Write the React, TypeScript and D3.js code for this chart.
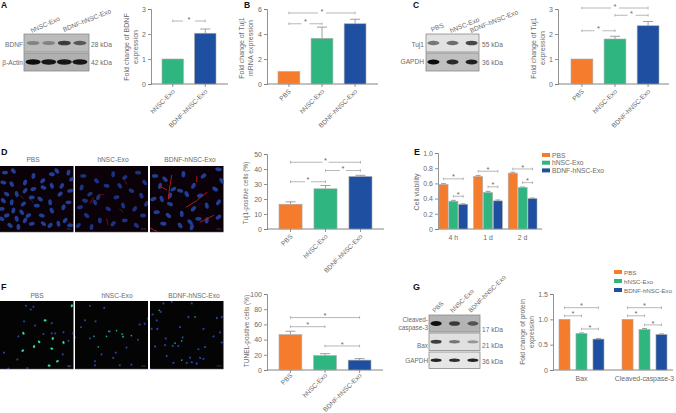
import React, { useEffect, useRef } from "react";
import * as d3 from "d3";

const GREY = "#6a6a6a";
const AXIS = "#777";
const ORANGE = "#f47c2c";
const GREEN = "#2fb57f";
const BLUE = "#1f4fa0";
const FONT = "'Liberation Sans', Arial, sans-serif";

const threeGroups = ["PBS", "hNSC-Exo", "BDNF-hNSC-Exo"];
const twoGroups = ["hNSC-Exo", "BDNF-hNSC-Exo"];
const threeColors = [ORANGE, GREEN, BLUE];

// A
const bdnfValues = [1, 2.03];
const bdnfErrors = [0, 0.17];
const bdnfBrackets = [[0, 1, 2.52]];
// B
const tuj1MrnaValues = [1, 3.65, 4.82];
const tuj1MrnaErrors = [0, 0.9, 0.36];
const tuj1MrnaBrackets = [[0, 2, 5.68], [0, 1, 4.82]];
// C
const tuj1Values = [1, 1.8, 2.33];
const tuj1Errors = [0, 0.11, 0.17];
const tuj1Brackets = [[0, 2, 3.04], [1, 2, 2.75], [0, 1, 2.13]];
// D
const tuj1CellValues = [16.5, 26.8, 35];
const tuj1CellErrors = [1.6, 2.2, 0.8];
const tuj1CellBrackets = [[0, 2, 44.5], [1, 2, 39], [0, 1, 31.5]];
// F
const tunelValues = [46.5, 19, 13];
const tunelErrors = [4.5, 2.5, 2];
const tunelBrackets = [[0, 2, 69], [0, 1, 57], [1, 2, 31.6]];
// E
const viabilityGroups = ["4 h", "1 d", "2 d"];
const viabilityValues = [[0.585, 0.365, 0.325], [0.69, 0.48, 0.37], [0.735, 0.545, 0.4]];
const viabilityErrors = [[0.012, 0.012, 0.006], [0.015, 0.015, 0.012], [0.012, 0.008, 0.008]];
const viabilityBrackets = [[0, 0, 2, 0.66], [0, 1, 2, 0.43], [1, 0, 2, 0.76], [1, 1, 2, 0.555], [2, 0, 2, 0.79], [2, 1, 2, 0.61]];
// G
const proteinGroups = ["Bax", "Cleaved-caspase-3"];
const proteinValues = [[1, 0.72, 0.61], [1, 0.8, 0.7]];
const proteinErrors = [[0, 0.012, 0.012], [0, 0.02, 0.012]];
const proteinBrackets = [[0, 0, 2, 1.23], [0, 0, 1, 1.07], [0, 1, 2, 0.81], [1, 0, 2, 1.23], [1, 0, 1, 1.07], [1, 1, 2, 0.89]];

// blot band strengths per lane
const blotABdnf = [0.3, 0.3, 0.75, 0.6];
const blotAActin = [1, 0.95, 0.95, 0.95];
const blotCTuj1 = [0.55, 0.6, 0.8];
const blotCGapdh = [1, 0.85, 0.9];
const blotGCaspase = [1, 0.75, 0.6];
const blotGBax = [0.85, 0.55, 0.4];
const blotGGapdh = [0.9, 0.85, 0.9];

// micrograph spots (local units: 220 wide, 200 high)
const dNucleiPbs = [[15,20],[40,15],[100,30],[128,45],[155,25],[170,15],[205,20],[215,40],[10,50],[35,55],[75,50],[100,70],[130,65],[155,60],[185,60],[210,75],[20,85],[50,85],[75,75],[95,95],[120,100],[150,110],[180,85],[205,110],[10,105],[35,110],[70,115],[110,120],[65,140],[40,135],[85,150],[125,150],[155,135],[190,125],[20,150],[5,160],[50,160],[75,165],[95,175],[130,175],[175,175],[195,165],[210,180],[30,180],[55,185],[150,180],[5,130]];
const dNucleiHnsc = [[25,30],[65,45],[115,25],[150,35],[190,20],[210,50],[20,65],[45,85],[30,105],[60,110],[70,95],[125,95],[170,75],[200,90],[215,115],[15,125],[100,130],[145,120],[180,130],[205,150],[35,150],[75,165],[115,175],[150,165],[185,180],[50,185],[10,180],[95,60],[135,60]];
const dNucleiBdnf = [[15,30],[45,40],[100,25],[160,30],[205,10],[215,45],[30,60],[70,70],[90,75],[110,85],[60,90],[10,100],[60,115],[35,100],[130,60],[150,90],[195,70],[170,120],[205,110],[20,140],[55,150],[95,145],[130,130],[145,160],[120,170],[170,165],[205,155],[40,175],[90,180],[125,185]];
const dRedPbs = [[[88,98],[98,108]], [[60,90],[70,98]], [[205,170],[215,178]]];
const dRedHnsc = [[[46,112],[55,95]], [[73,88],[85,86]], [[135,130],[145,140]], [[150,45],[156,55]], [[95,160],[100,178]]];
const dRedBdnf = [[[65,28],[58,70],[55,100]], [[108,125],[140,105],[170,80]], [[140,32],[140,48]], [[150,170],[190,150]], [[0,188],[20,198]], [[30,62],[50,72]]];

const fBluePbs = [[78,14],[92,25],[100,17],[72,60],[105,72],[155,65],[155,95],[165,95],[190,92],[205,117],[218,95],[55,104],[12,152],[188,157],[207,192],[52,172],[82,197],[25,199],[130,97]];
const fGreenPbs = [[135,57],[117,120],[102,134],[68,146],[155,140],[70,95],[158,110],[172,177],[147,190],[190,122],[215,14]];
const fBlueHnsc = [[45,14],[88,20],[30,57],[62,60],[18,77],[45,110],[0,107],[190,114],[195,69],[210,67],[155,137],[123,152],[115,167],[60,177],[60,189],[135,189],[170,187],[80,157],[220,52],[105,90],[145,105]];
const fGreenHnsc = [[57,104],[95,104],[125,87],[102,89],[170,102],[142,97],[145,105],[70,135]];
const fBlueBdnf = [[8,40],[20,57],[5,82],[22,82],[32,32],[47,110],[98,107],[45,130],[68,132],[15,134],[50,162],[70,182],[90,77],[115,47],[160,82],[190,104],[210,92],[200,50],[215,47],[165,135],[145,142],[120,167],[110,182],[125,180],[150,167],[140,184],[160,170],[215,122],[0,200],[85,132],[40,7],[65,2],[125,7]];
const fGreenBdnf = [[28,27],[75,124],[95,117],[95,174],[135,47]];

const barX = (range: number[], n: number) => d3.scaleBand<number>().domain(d3.range(n)).range(range as [number, number]).paddingInner(0.34).paddingOuter(0);

function drawAxes(g: any, y: any, axisX: number, right: number, ticks: number[], fmt: (d: number) => string) {
  const left = g.append("g").attr("transform", `translate(${axisX},0)`).call(d3.axisLeft(y).tickValues(ticks).tickSize(3).tickPadding(2).tickFormat(fmt as any));
  left.selectAll("path,line").attr("stroke", AXIS).attr("stroke-width", 0.8);
  left.selectAll("text").attr("fill", GREY).attr("font-size", 7).attr("font-family", FONT);
  g.append("line").attr("x1", axisX).attr("x2", right).attr("y1", y(0)).attr("y2", y(0)).attr("stroke", AXIS).attr("stroke-width", 0.9);
}

function drawError(g: any, cx: number, y: any, v: number, e: number, cap: number) {
  if (!e) return;
  g.append("line").attr("x1", cx).attr("x2", cx).attr("y1", y(v)).attr("y2", y(v + e)).attr("stroke", "#888").attr("stroke-width", 0.8);
  g.append("line").attr("x1", cx - cap).attr("x2", cx + cap).attr("y1", y(v + e)).attr("y2", y(v + e)).attr("stroke", "#888").attr("stroke-width", 0.8);
}

function drawBar(g: any, x: number, w: number, y: any, v: number, color: string) {
  g.append("rect").attr("x", x).attr("y", y(v)).attr("width", w).attr("height", y(0) - y(v))
    .attr("fill", color).attr("stroke", "#aaa").attr("stroke-width", 0.6);
}

// star sits above the line, some panels leave a gap in the line under it
function drawBracket(g: any, x1: number, x2: number, yy: number, gap = 0) {
  const mid = (x1 + x2) / 2;
  const c = "#999";
  [[x1, mid - gap], [mid + gap, x2]].forEach(([a, b]) => {
    g.append("line").attr("x1", a).attr("x2", b).attr("y1", yy).attr("y2", yy).attr("stroke", c).attr("stroke-width", 0.7);
  });
  [x1, x2].forEach((x) => {
    g.append("line").attr("x1", x).attr("x2", x).attr("y1", yy - 1.3).attr("y2", yy + 1.3).attr("stroke", c).attr("stroke-width", 0.7);
  });
  g.append("text").attr("x", mid).attr("y", yy + 0.6).attr("text-anchor", "middle").attr("font-size", 7.5).attr("fill", GREY).attr("font-family", FONT).text("*");
}

function simplePanel(g: any, o: any) {
  const y = d3.scaleLinear().domain(o.domain).range(o.yRange);
  const x = barX(o.barRange, o.labels.length);
  const labelDy = o.labelDy ?? 8;
  drawAxes(g, y, o.axisX, o.right, o.ticks, (d) => String(d));
  o.values.forEach((v: number, i: number) => {
    const bx = x(i)!;
    const cx = bx + x.bandwidth() / 2;
    drawError(g, cx, y, v, o.errors[i], 5);
    drawBar(g, bx, x.bandwidth(), y, v, o.colors[i]);
    g.append("line").attr("x1", cx).attr("x2", cx).attr("y1", y(0)).attr("y2", y(0) + 3).attr("stroke", AXIS).attr("stroke-width", 0.8);
    g.append("text").attr("transform", `translate(${cx + 2.5},${y(0) + labelDy}) rotate(-45)`).attr("text-anchor", "end")
      .attr("font-size", 6.6).attr("fill", GREY).attr("font-family", FONT).text(o.labels[i]);
  });
  o.brackets.forEach(([a, b, v]: number[]) => {
    drawBracket(g, x(a)! + x.bandwidth() / 2, x(b)! + x.bandwidth() / 2, y(v), o.gap);
  });
}

function groupedPanel(g: any, o: any) {
  const y = d3.scaleLinear().domain(o.domain).range(o.yRange);
  const x0 = d3.scaleBand<number>().domain(d3.range(o.groups.length)).range(o.barRange).paddingInner(o.pad0).paddingOuter(0);
  const x1 = d3.scaleBand<number>().domain([0, 1, 2]).range([0, x0.bandwidth()]).paddingInner(o.pad1).paddingOuter(0);
  drawAxes(g, y, o.axisX, o.right, o.ticks, o.fmt);
  o.groups.forEach((name: string, gi: number) => {
    o.values[gi].forEach((v: number, si: number) => {
      const bx = x0(gi)! + x1(si)!;
      drawError(g, bx + x1.bandwidth() / 2, y, v, o.errors[gi][si], 2.5);
      drawBar(g, bx, x1.bandwidth(), y, v, threeColors[si]);
    });
    g.append("text").attr("x", x0(gi)! + x0.bandwidth() / 2).attr("y", y(0) + o.labelDy).attr("text-anchor", "middle")
      .attr("font-size", 6.9).attr("fill", GREY).attr("font-family", FONT).text(name);
  });
  o.brackets.forEach(([gi, a, b, v]: number[]) => {
    const c = (s: number) => x0(gi)! + x1(s)! + x1.bandwidth() / 2;
    drawBracket(g, c(a), c(b), y(v), 0);
  });
}

const Txt = ({ x, y, children, size = 6.6, anchor = "start", fill = GREY, rotate, weight }: any) => (
  <text x={rotate === undefined ? x : 0} y={rotate === undefined ? y : 0}
    transform={rotate === undefined ? undefined : `translate(${x},${y}) rotate(${rotate})`}
    fontSize={size} textAnchor={anchor} fill={fill} fontWeight={weight} fontFamily={FONT}>{children}</text>
);

const YTitle = ({ x, y, lines, size = 7 }: any) => (
  <g>
    {lines.map((l: string, i: number) => (
      <Txt key={l} x={x + i * 9} y={y} rotate={-90} anchor="middle" size={size}>{l}</Txt>
    ))}
  </g>
);

function Blot({ x, y, w, h, lanes, bands, bg, dark = "#111", bandW = 12, bandH = 3.6 }: any) {
  const lane = d3.scalePoint<number>().domain(d3.range(lanes)).range([x + w * 0.14, x + w * 0.86]);
  return (
    <g>
      <rect x={x} y={y} width={w} height={h} fill={bg} stroke="#8a8a8a" strokeWidth={0.8} />
      <g filter="url(#soft)">
        {bands.map((b: number, i: number) => (
          <ellipse key={i} cx={lane(i)} cy={y + h / 2} rx={bandW / 2} ry={bandH / 2 + b * 0.7} fill={dark} opacity={b} />
        ))}
      </g>
    </g>
  );
}

function Photo({ x, y, w, h, bg, layers }: any) {
  const sx = d3.scaleLinear().domain([0, 220]).range([x, x + w]);
  const sy = d3.scaleLinear().domain([0, 200]).range([y, y + h]);
  const line = d3.line<number[]>().x((d) => sx(d[0])).y((d) => sy(d[1]));
  return (
    <g>
      <clipPath id={`clip${x}${y}`}><rect x={x} y={y} width={w} height={h} /></clipPath>
      <rect x={x} y={y} width={w} height={h} fill={bg} />
      <g clipPath={`url(#clip${x}${y})`}>
        <g filter="url(#softer)">
          {layers.spots.map((s: any, si: number) => s.points.map((p: number[], i: number) => (
            <ellipse key={`${si}-${i}`} cx={sx(p[0])} cy={sy(p[1])} rx={s.rx} ry={s.ry} fill={s.color}
              transform={`rotate(${(i * 47) % 180} ${sx(p[0])} ${sy(p[1])})`} />
          )))}
          {(layers.red || []).map((r: number[][], i: number) => (
            <path key={i} d={line(r)!} fill="none" stroke="#b01824" strokeWidth={layers.redW} strokeLinecap="round" />
          ))}
        </g>
      </g>
      <line x1={x} x2={x + w} y1={y + h + 0.3} y2={y + h + 0.3} stroke="#aaa" strokeWidth={0.7} />
      <line x1={x + w - 7} x2={x + w - 2} y1={y + h - 3} y2={y + h - 3} stroke="#666" strokeWidth={0.5} />
    </g>
  );
}

function Legend({ x, y, step, size }: any) {
  return (
    <g>
      {threeGroups.map((n, i) => (
        <g key={n}>
          <rect x={x} y={y + i * step - 2} width={8} height={4} fill={threeColors[i]} />
          <Txt x={x + 10} y={y + i * step + 2.5} size={size}>{n}</Txt>
        </g>
      ))}
    </g>
  );
}

export default function App() {
  const ref = useRef<SVGGElement>(null);

  useEffect(() => {
    const g = d3.select(ref.current!);
    g.selectAll("*").remove();
    const two = [GREEN, BLUE];
    const oneDec = (d: number) => (d === 0 ? "0" : d3.format(".1f")(d));
    simplePanel(g, { domain: [0, 3], yRange: [84, 9], barRange: [162, 216], axisX: 151, right: 228, ticks: [0, 1, 2, 3], labels: twoGroups, colors: two, values: bdnfValues, errors: bdnfErrors, brackets: bdnfBrackets, gap: 6 });
    simplePanel(g, { domain: [0, 6], yRange: [84, 9], barRange: [278, 366], axisX: 267, right: 378, ticks: [0, 2, 4, 6], labels: threeGroups, colors: threeColors, values: tuj1MrnaValues, errors: tuj1MrnaErrors, brackets: tuj1MrnaBrackets, gap: 4 });
    simplePanel(g, { domain: [0, 3], yRange: [84, 9], barRange: [571, 659], axisX: 558, right: 669, ticks: [0, 1, 2, 3], labels: threeGroups, colors: threeColors, values: tuj1Values, errors: tuj1Errors, brackets: tuj1Brackets, gap: 4 });
    simplePanel(g, { domain: [0, 50], yRange: [229, 154], barRange: [279, 372], axisX: 267, right: 384, ticks: [0, 10, 20, 30, 40, 50], labels: threeGroups, colors: threeColors, values: tuj1CellValues, errors: tuj1CellErrors, brackets: tuj1CellBrackets, gap: 3 });
    simplePanel(g, { domain: [0, 100], yRange: [370, 294], barRange: [279, 371], axisX: 267, right: 383, ticks: [0, 20, 40, 60, 80, 100], labels: threeGroups, colors: threeColors, values: tunelValues, errors: tunelErrors, brackets: tunelBrackets, gap: 0, labelDy: 6 });
    groupedPanel(g, { domain: [0, 1], yRange: [229, 153], barRange: [439, 537], pad0: 0.17, pad1: 0.08, axisX: 438, right: 542, ticks: [0, 0.2, 0.4, 0.6, 0.8, 1], fmt: oneDec, groups: viabilityGroups, values: viabilityValues, errors: viabilityErrors, brackets: viabilityBrackets, labelDy: 11 });
    groupedPanel(g, { domain: [0, 1.5], yRange: [370, 294], barRange: [559, 667], pad0: 0.286, pad1: 0.35, axisX: 553, right: 673, ticks: [0, 0.5, 1, 1.5], fmt: oneDec, groups: proteinGroups, values: proteinValues, errors: proteinErrors, brackets: proteinBrackets, labelDy: 10.5 });
  }, []);

  return (
    <svg width={676} height={413} style={{ position: "absolute", left: 0, top: 0, background: "#fff" }}>
      <defs>
        <filter id="soft" x="-10%" y="-10%" width="120%" height="120%"><feGaussianBlur stdDeviation={0.6} /></filter>
        <filter id="softer" x="-10%" y="-10%" width="120%" height="120%"><feGaussianBlur stdDeviation={0.5} /></filter>
      </defs>

      {/* panel letters */}
      <Txt x={1} y={8} size={8.5} fill="#111" weight="bold">A</Txt>
      <Txt x={244} y={8} size={8.5} fill="#111" weight="bold">B</Txt>
      <Txt x={413} y={8} size={8.5} fill="#111" weight="bold">C</Txt>
      <Txt x={1} y={155} size={9} fill="#111" weight="bold">D</Txt>
      <Txt x={414} y={155} size={9} fill="#111" weight="bold">E</Txt>
      <Txt x={1} y={290} size={9} fill="#111" weight="bold">F</Txt>
      <Txt x={413} y={290} size={9} fill="#111" weight="bold">G</Txt>

      {/* A blot */}
      <Blot x={24} y={34} w={65} h={18} lanes={4} bands={blotABdnf} bg="#bcbcbc" bandW={13} />
      <Blot x={24} y={53} w={65} h={18} lanes={4} bands={blotAActin} bg="#b0b0b0" bandW={15} bandH={4} />
      <Txt x={32} y={33} rotate={-24} size={6.6}>hNSC-Exo</Txt>
      <Txt x={64} y={32} rotate={-22} size={6.6}>BDNF-hNSC-Exo</Txt>
      <Txt x={23} y={47} anchor="end">BDNF</Txt>
      <Txt x={23} y={65} anchor="end">β-Actin</Txt>
      <Txt x={91} y={47}>28 kDa</Txt>
      <Txt x={91} y={65}>42 kDa</Txt>

      {/* C blot */}
      <Blot x={426} y={34} w={53} h={18} lanes={3} bands={blotCTuj1} bg="#e2e2e2" dark="#222" bandW={12} />
      <Blot x={426} y={53} w={53} h={18} lanes={3} bands={blotCGapdh} bg="#c0c0c0" bandW={12} />
      <Txt x={432} y={32} rotate={-22} size={6.6}>PBS</Txt>
      <Txt x={451} y={33} rotate={-22} size={6.6}>hNSC-Exo</Txt>
      <Txt x={471} y={33} rotate={-22} size={6.6}>BDNF-hNSC-Exo</Txt>
      <Txt x={424} y={47} anchor="end">Tuj1</Txt>
      <Txt x={424} y={64} anchor="end">GAPDH</Txt>
      <Txt x={482} y={47}>55 kDa</Txt>
      <Txt x={482} y={65}>36 kDa</Txt>

      {/* G blot */}
      <Blot x={429} y={315} w={51} h={17} lanes={3} bands={blotGCaspase} bg="#b4b4b4" bandW={11} />
      <Blot x={429} y={333} w={51} h={17.5} lanes={3} bands={blotGBax} bg="#e0e0e0" dark="#222" bandW={11} bandH={2.6} />
      <Blot x={429} y={352} w={51} h={16.5} lanes={3} bands={blotGGapdh} bg="#e6e6e6" bandW={11} bandH={2.2} />
      <Txt x={435} y={313} rotate={-45} size={6.4}>PBS</Txt>
      <Txt x={453} y={313} rotate={-45} size={6.4}>hNSC-Exo</Txt>
      <Txt x={471} y={313} rotate={-45} size={6.4}>BDNF-hNSC-Exo</Txt>
      <Txt x={428} y={322} anchor="end" size={6.4}>Cleaved-</Txt>
      <Txt x={428} y={330} anchor="end" size={6.4}>caspase-3</Txt>
      <Txt x={428} y={348} anchor="end" size={6.4}>Bax</Txt>
      <Txt x={428} y={363} anchor="end" size={6.4}>GAPDH</Txt>
      <Txt x={482} y={332}>17 kDa</Txt>
      <Txt x={482} y={348}>21 kDa</Txt>
      <Txt x={482} y={364}>36 kDa</Txt>

      {/* D micrographs */}
      <Photo x={0} y={166} w={73.5} h={66} bg="#0a0208" layers={{ spots: [{ points: dNucleiPbs, rx: 3, ry: 1.9, color: "#243c94" }], red: dRedPbs, redW: 0.6 }} />
      <Photo x={75} y={166} w={73} h={66} bg="#0a0208" layers={{ spots: [{ points: dNucleiHnsc, rx: 3, ry: 1.9, color: "#1d3080" }], red: dRedHnsc, redW: 0.6 }} />
      <Photo x={150} y={166} w={73.5} h={66} bg="#0a0208" layers={{ spots: [{ points: dNucleiBdnf, rx: 3.2, ry: 1.9, color: "#243c94" }], red: dRedBdnf, redW: 1 }} />
      <Txt x={33} y={162} anchor="middle">PBS</Txt>
      <Txt x={113} y={162} anchor="middle">hNSC-Exo</Txt>
      <Txt x={190} y={162} anchor="middle">BDNF-hNSC-Exo</Txt>

      {/* F micrographs */}
      <Photo x={0} y={301} w={73.5} h={68} bg="#040404" layers={{ spots: [{ points: fBluePbs, rx: 1.1, ry: 1, color: "#2640a0" }, { points: fGreenPbs, rx: 1.5, ry: 1.1, color: "#2fd8a8" }] }} />
      <Photo x={75} y={301} w={73} h={68} bg="#040404" layers={{ spots: [{ points: fBlueHnsc, rx: 1.1, ry: 1, color: "#2640a0" }, { points: fGreenHnsc, rx: 0.9, ry: 0.8, color: "#22a878" }] }} />
      <Photo x={150} y={301} w={73.5} h={68} bg="#040404" layers={{ spots: [{ points: fBlueBdnf, rx: 1.2, ry: 1, color: "#2640a0" }, { points: fGreenBdnf, rx: 0.9, ry: 0.8, color: "#22a878" }] }} />
      <Txt x={37} y={298} anchor="middle">PBS</Txt>
      <Txt x={117} y={298} anchor="middle">hNSC-Exo</Txt>
      <Txt x={194} y={298} anchor="middle">BDNF-hNSC-Exo</Txt>

      {/* chart titles */}
      <YTitle x={129} y={47} lines={["Fold change of BDNF", "expression"]} />
      <YTitle x={244} y={48} lines={["Fold change of Tuj1", "mRNA expression"]} />
      <YTitle x={536} y={48} lines={["Fold change of Tuj1", "expression"]} />
      <YTitle x={248} y={193} lines={["Tuj1-positive cells (%)"]} size={6.4} />
      <YTitle x={419} y={192} lines={["Cell viability"]} />
      <YTitle x={249} y={331} lines={["TUNEL-positive cells (%)"]} size={6.5} />
      <YTitle x={525} y={332} lines={["Fold change of protein", "expression"]} size={6.6} />

      <Legend x={542} y={155} step={7.7} size={6.7} />
      <Legend x={614} y={272} step={9} size={6.2} />

      <g ref={ref} />
    </svg>
  );
}
